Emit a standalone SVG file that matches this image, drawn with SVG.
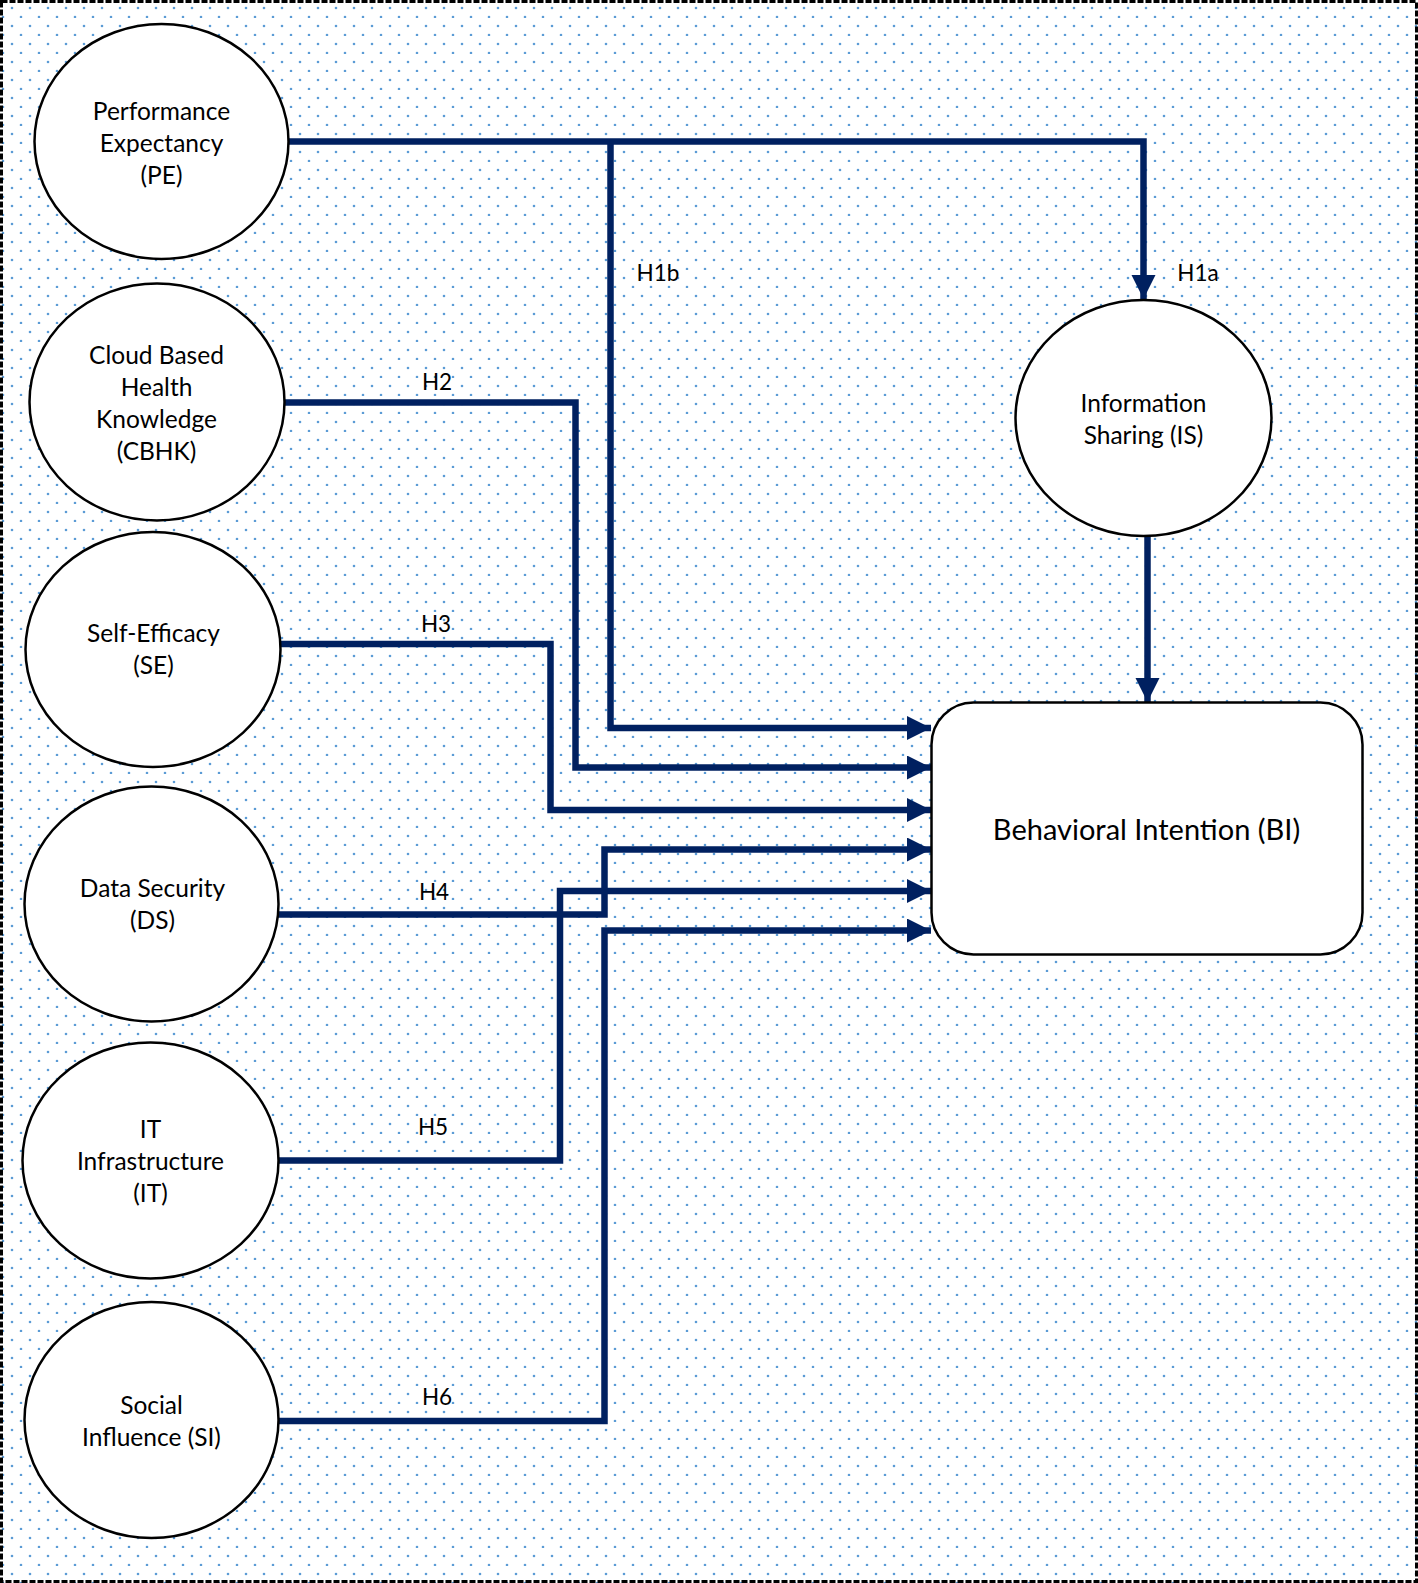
<svg xmlns="http://www.w3.org/2000/svg" width="1418" height="1583" viewBox="0 0 1418 1583">
<defs>
<pattern id="dots" patternUnits="userSpaceOnUse" x="0" y="0" width="18" height="18">
<circle cx="12" cy="8" r="1.3" fill="#5b9bd5"/>
<circle cx="3" cy="17" r="1.3" fill="#5b9bd5"/>
</pattern>
<marker id="arr" markerUnits="userSpaceOnUse" markerWidth="26" markerHeight="26" refX="24" refY="12" orient="auto">
<path d="M0,0 L24,12 L0,24 Z" fill="#002060"/>
</marker>
<style>
.node{fill:#fff;stroke:#000;stroke-width:2.5}
.t{font-family:Lato,"Open Sans","Liberation Sans",sans-serif;font-size:24.5px;fill:#000;text-anchor:middle}
.lbl{font-family:Lato,"Open Sans","Liberation Sans",sans-serif;font-size:22.5px;fill:#000;text-anchor:middle}
.c{fill:none;stroke:#002060;stroke-width:6.5}
</style>
</defs>
<rect x="0" y="0" width="1418" height="1583" fill="#fff"/>
<rect x="0" y="0" width="1418" height="1583" fill="url(#dots)"/>
<rect x="1.5" y="1.5" width="1415" height="1580" fill="none" stroke="#000" stroke-width="3" stroke-dasharray="6 2"/>

<g id="connectors">
<polyline class="c" points="288,141.5 1143.5,141.5 1143.5,299" marker-end="url(#arr)"/>
<polyline class="c" points="610.5,141.5 610.5,728 931,728" marker-end="url(#arr)"/>
<polyline class="c" points="284,402.5 575.5,402.5 575.5,767.5 931,767.5" marker-end="url(#arr)"/>
<polyline class="c" points="280,644 550.5,644 550.5,810 931,810" marker-end="url(#arr)"/>
<polyline class="c" points="278,914.5 604.5,914.5 604.5,849.5 931,849.5" marker-end="url(#arr)"/>
<polyline class="c" points="278,1160.5 560,1160.5 560,891 931,891" marker-end="url(#arr)"/>
<polyline class="c" points="278,1421 604.5,1421 604.5,930.5 931,930.5" marker-end="url(#arr)"/>
<polyline class="c" points="1147.5,536 1147.5,702" marker-end="url(#arr)"/>
<text class="lbl" x="658" y="281">H1b</text>
<text class="lbl" x="1198" y="281">H1a</text>
<text class="lbl" x="437" y="390">H2</text>
<text class="lbl" x="436" y="632">H3</text>
<text class="lbl" x="434" y="900">H4</text>
<text class="lbl" x="433" y="1135">H5</text>
<text class="lbl" x="437" y="1405">H6</text>
</g>

<g id="PE">
<ellipse class="node" cx="161.5" cy="141.5" rx="127" ry="117.5"/>
<text class="t" x="161.5" y="119.5">Performance</text>
<text class="t" x="161.5" y="151.5">Expectancy</text>
<text class="t" x="161.5" y="183.5">(PE)</text>
</g>
<g id="CBHK">
<ellipse class="node" cx="157" cy="402" rx="127.5" ry="118.5"/>
<text class="t" x="156.5" y="363.5">Cloud Based</text>
<text class="t" x="156.5" y="395.5">Health</text>
<text class="t" x="156.5" y="427.5">Knowledge</text>
<text class="t" x="156.5" y="459.5">(CBHK)</text>
</g>
<g id="SE">
<ellipse class="node" cx="153" cy="649.5" rx="127.5" ry="117.5"/>
<text class="t" x="153.5" y="641.5">Self-Efficacy</text>
<text class="t" x="153.5" y="673.5">(SE)</text>
</g>
<g id="DS">
<ellipse class="node" cx="151.5" cy="904" rx="127" ry="117.5"/>
<text class="t" x="152.5" y="896.5">Data Security</text>
<text class="t" x="152.5" y="928.5">(DS)</text>
</g>
<g id="IT">
<ellipse class="node" cx="150.5" cy="1160.5" rx="128" ry="118"/>
<text class="t" x="150.5" y="1137.5">IT</text>
<text class="t" x="150.5" y="1169.5">Infrastructure</text>
<text class="t" x="150.5" y="1201.5">(IT)</text>
</g>
<g id="SI">
<ellipse class="node" cx="151.5" cy="1420" rx="127" ry="118"/>
<text class="t" x="151.5" y="1413.5">Social</text>
<text class="t" x="151.5" y="1445.5">Influence (SI)</text>
</g>
<g id="IS">
<ellipse class="node" cx="1143.5" cy="418" rx="128" ry="118"/>
<text class="t" x="1143.5" y="411.5">Information</text>
<text class="t" x="1143.5" y="443.5">Sharing (IS)</text>
</g>
<g id="BI">
<rect class="node" x="931.5" y="702.5" width="431" height="252" rx="42" ry="42"/>
<text class="t" x="1146.5" y="840" style="font-size:29px">Behavioral Intention (BI)</text>
</g>
</svg>
